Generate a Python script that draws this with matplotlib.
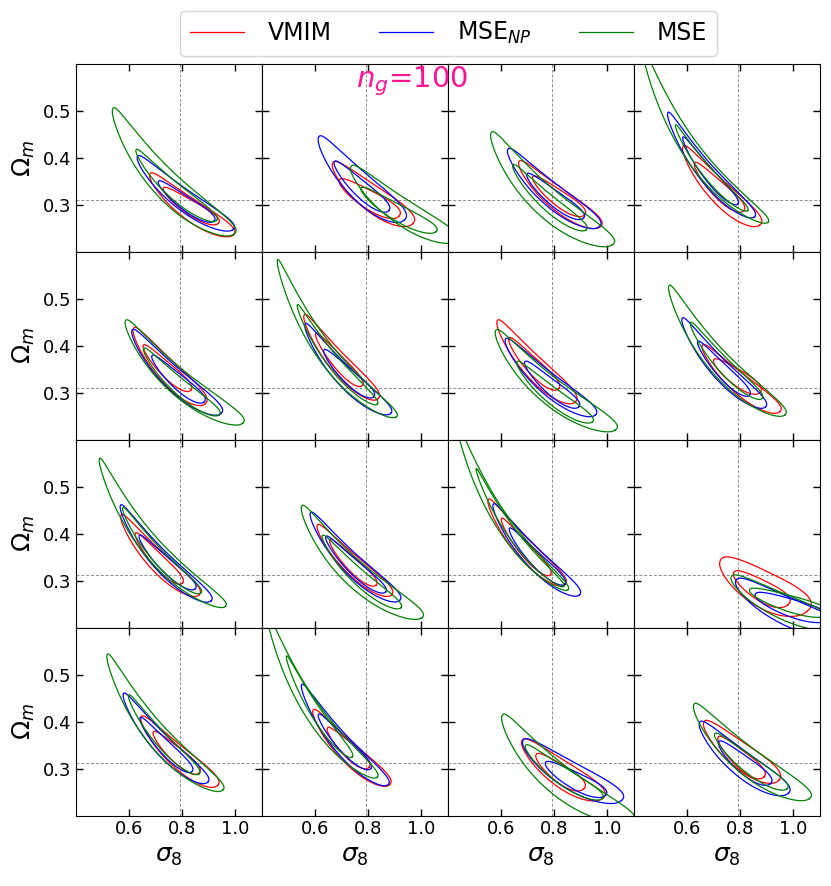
import numpy as np
import matplotlib
matplotlib.use('Agg')
import matplotlib.pyplot as plt
from matplotlib.lines import Line2D

# fiducial values
sigma8_fid = 0.791
omegam_fid = 0.311

series_names = ['VMIM', r'MSE$_{NP}$', 'MSE']
series_colors = ['red', 'blue', 'green']
title_text = r'$n_g$=100'

x_ticks = [0.6, 0.8, 1.0]
y_ticks = [0.3, 0.4, 0.5]

# each row = one panel (row-major 4x4):
# (sigma8 tip1, Om tip1, sigma8 tip2, Om tip2, vertical half-thickness in Om)
vmim_95 = [
    (0.678, 0.366, 0.992, 0.236, 0.028), (0.666, 0.389, 0.967, 0.260, 0.034),
    (0.667, 0.392, 0.974, 0.254, 0.030), (0.584, 0.424, 0.875, 0.258, 0.034),
    (0.616, 0.437, 0.887, 0.277, 0.034), (0.558, 0.465, 0.838, 0.288, 0.031),
    (0.585, 0.453, 0.880, 0.281, 0.034), (0.657, 0.401, 0.949, 0.260, 0.0275),
    (0.569, 0.439, 0.864, 0.270, 0.030), (0.608, 0.418, 0.888, 0.270, 0.0275),
    (0.551, 0.472, 0.842, 0.292, 0.030), (0.726, 0.344, 1.052, 0.235, 0.045),
    (0.645, 0.410, 0.933, 0.264, 0.030), (0.592, 0.424, 0.881, 0.266, 0.030),
    (0.679, 0.360, 0.983, 0.237, 0.034), (0.663, 0.399, 0.945, 0.275, 0.034),
]
vmim_68 = [
    (0.729, 0.336, 0.936, 0.261, 0.0175), (0.691, 0.353, 0.917, 0.277, 0.0225),
    (0.719, 0.360, 0.914, 0.279, 0.020), (0.628, 0.389, 0.813, 0.288, 0.0225),
    (0.653, 0.401, 0.833, 0.306, 0.020), (0.602, 0.426, 0.778, 0.316, 0.020),
    (0.629, 0.416, 0.817, 0.309, 0.0225), (0.700, 0.370, 0.876, 0.302, 0.020),
    (0.623, 0.401, 0.801, 0.295, 0.020), (0.655, 0.387, 0.830, 0.291, 0.019),
    (0.601, 0.432, 0.786, 0.313, 0.020), (0.776, 0.318, 0.980, 0.249, 0.025),
    (0.691, 0.378, 0.864, 0.291, 0.020), (0.646, 0.386, 0.803, 0.303, 0.020),
    (0.732, 0.330, 0.911, 0.257, 0.0225), (0.717, 0.367, 0.889, 0.282, 0.0225),
]
msenp_95 = [
    (0.631, 0.403, 0.992, 0.248, 0.028), (0.613, 0.444, 0.936, 0.268, 0.040),
    (0.625, 0.418, 0.970, 0.254, 0.0325), (0.527, 0.496, 0.854, 0.275, 0.030),
    (0.611, 0.433, 0.946, 0.256, 0.0325), (0.562, 0.446, 0.884, 0.256, 0.030),
    (0.616, 0.414, 0.955, 0.253, 0.030), (0.581, 0.458, 0.895, 0.270, 0.030),
    (0.567, 0.460, 0.908, 0.257, 0.030), (0.582, 0.444, 0.918, 0.258, 0.031),
    (0.570, 0.462, 0.895, 0.270, 0.030), (0.785, 0.302, 1.196, 0.185, 0.034),
    (0.578, 0.459, 0.896, 0.271, 0.030), (0.549, 0.478, 0.875, 0.266, 0.030),
    (0.682, 0.360, 1.053, 0.232, 0.034), (0.647, 0.398, 0.980, 0.247, 0.034),
]
msenp_68 = [
    (0.710, 0.350, 0.920, 0.266, 0.0175), (0.672, 0.392, 0.877, 0.288, 0.0225),
    (0.697, 0.366, 0.910, 0.272, 0.020), (0.584, 0.444, 0.791, 0.302, 0.020),
    (0.686, 0.379, 0.883, 0.281, 0.020), (0.633, 0.391, 0.821, 0.292, 0.020),
    (0.689, 0.366, 0.892, 0.270, 0.020), (0.640, 0.409, 0.835, 0.295, 0.020),
    (0.638, 0.396, 0.849, 0.283, 0.020), (0.640, 0.394, 0.865, 0.276, 0.020),
    (0.631, 0.411, 0.840, 0.293, 0.020), (0.857, 0.272, 1.133, 0.217, 0.020),
    (0.641, 0.408, 0.837, 0.294, 0.020), (0.612, 0.415, 0.809, 0.300, 0.020),
    (0.767, 0.313, 0.993, 0.243, 0.020), (0.719, 0.357, 0.914, 0.268, 0.0225),
]
mse_95 = [
    (0.538, 0.504, 0.995, 0.238, 0.044), (0.735, 0.382, 1.130, 0.222, 0.034),
    (0.562, 0.453, 1.018, 0.215, 0.043), (0.433, 0.630, 0.904, 0.263, 0.034),
    (0.586, 0.453, 1.027, 0.235, 0.036), (0.458, 0.582, 0.906, 0.249, 0.034),
    (0.579, 0.432, 1.030, 0.221, 0.038), (0.531, 0.527, 0.968, 0.253, 0.038),
    (0.488, 0.559, 0.962, 0.245, 0.034), (0.549, 0.458, 1.001, 0.221, 0.038),
    (0.435, 0.630, 0.852, 0.281, 0.030), (0.767, 0.309, 1.171, 0.199, 0.030),
    (0.517, 0.542, 0.952, 0.254, 0.038), (0.420, 0.626, 0.834, 0.282, 0.034),
    (0.604, 0.413, 1.093, 0.186, 0.043), (0.625, 0.436, 1.060, 0.236, 0.038),
]
mse_68 = [
    (0.626, 0.417, 0.929, 0.267, 0.022), (0.773, 0.336, 1.055, 0.243, 0.020),
    (0.644, 0.385, 0.920, 0.247, 0.022), (0.556, 0.470, 0.828, 0.288, 0.018),
    (0.655, 0.394, 0.939, 0.253, 0.022), (0.533, 0.487, 0.834, 0.276, 0.022),
    (0.660, 0.366, 0.943, 0.238, 0.022), (0.613, 0.449, 0.882, 0.288, 0.022),
    (0.576, 0.455, 0.870, 0.274, 0.022), (0.627, 0.396, 0.922, 0.242, 0.022),
    (0.506, 0.538, 0.836, 0.288, 0.018), (0.835, 0.281, 1.133, 0.228, 0.018),
    (0.598, 0.456, 0.864, 0.289, 0.022), (0.492, 0.539, 0.740, 0.325, 0.022),
    (0.692, 0.349, 0.980, 0.236, 0.022), (0.704, 0.374, 0.976, 0.257, 0.022),
]

series_contours = [(vmim_68, vmim_95), (msenp_68, msenp_95), (mse_68, mse_95)]

KX = 0.8 / 0.7
KY = 0.31 / 0.4
SHAPE_P = 2.3     # superellipse exponent (fuller than an ellipse)
SKEW = 0.3        # contours widen toward the high-sigma8 end


def contour_path(s1, o1, s2, o2, dh, n=400):
    """Egg-shaped contour in (log sigma8, log Omega_m) space between two tips."""
    X1, Y1 = KX * np.log(s1), KY * np.log(o1)
    X2, Y2 = KX * np.log(s2), KY * np.log(o2)
    cx, cy = (X1 + X2) / 2, (Y1 + Y2) / 2
    dx, dy = X2 - X1, Y2 - Y1
    L = np.hypot(dx, dy)
    a = L / 2
    dx, dy = dx / L, dy / L
    oc = np.exp(cy / KY)
    t = KY * np.log(1 + dh / oc)
    b = abs(dx) / np.sqrt(max(1 / t**2 - dy**2 / a**2, 1e-9))
    th = np.linspace(0, 2 * np.pi, n)
    c, s = np.cos(th), np.sin(th)
    u = a * np.sign(c) * np.abs(c) ** (2 / SHAPE_P)
    v = b * np.sign(s) * np.abs(s) ** (2 / SHAPE_P) * (1 + SKEW * u / a)
    X = cx + u * dx - v * dy
    Y = cy + u * dy + v * dx
    return np.exp(X / KX), np.exp(Y / KY)


fig, axes = plt.subplots(4, 4, figsize=(8.31, 8.86), dpi=100,
                         sharex=True, sharey=True)
fig.subplots_adjust(left=76 / 831, right=820 / 831,
                    bottom=1 - 815.5 / 886, top=1 - 64 / 886,
                    wspace=0, hspace=0)

for idx, ax in enumerate(axes.flat):
    ax.axvline(sigma8_fid, color='gray', lw=0.7, ls=(0, (3, 2)), alpha=0.9)
    ax.axhline(omegam_fid, color='gray', lw=0.7, ls=(0, (3, 2)), alpha=0.9)
    for (c68, c95), col in zip(series_contours, series_colors):
        for cset in (c95, c68):
            xs, ys = contour_path(*cset[idx])
            ax.plot(xs, ys, color=col, lw=0.9)
    ax.set_xlim(0.4, 1.1)
    ax.set_ylim(0.2, 0.6)
    ax.set_xticks(x_ticks)
    ax.set_yticks(y_ticks)
    ax.tick_params(direction='in', top=True, right=True, labelsize=13,
                   length=5, width=1)

for ax in axes[:, 0]:
    ax.set_ylabel(r'$\Omega_m$', fontsize=18)
for ax in axes[-1, :]:
    ax.set_xlabel(r'$\sigma_8$', fontsize=18)

handles = [Line2D([], [], color=c, lw=0.9) for c in series_colors]
fig.legend(handles, series_names, loc='upper center',
           bbox_to_anchor=(448.5 / 831, 1 - 10.5 / 886), ncol=3,
           fontsize=17, handlelength=2.3, handletextpad=1.0,
           columnspacing=2.0, borderaxespad=0)

fig.text(0.496, 1 - 87 / 886, title_text, color='#ff1493', fontsize=21,
         ha='center', va='baseline')

fig.savefig('out.png', dpi=100)
